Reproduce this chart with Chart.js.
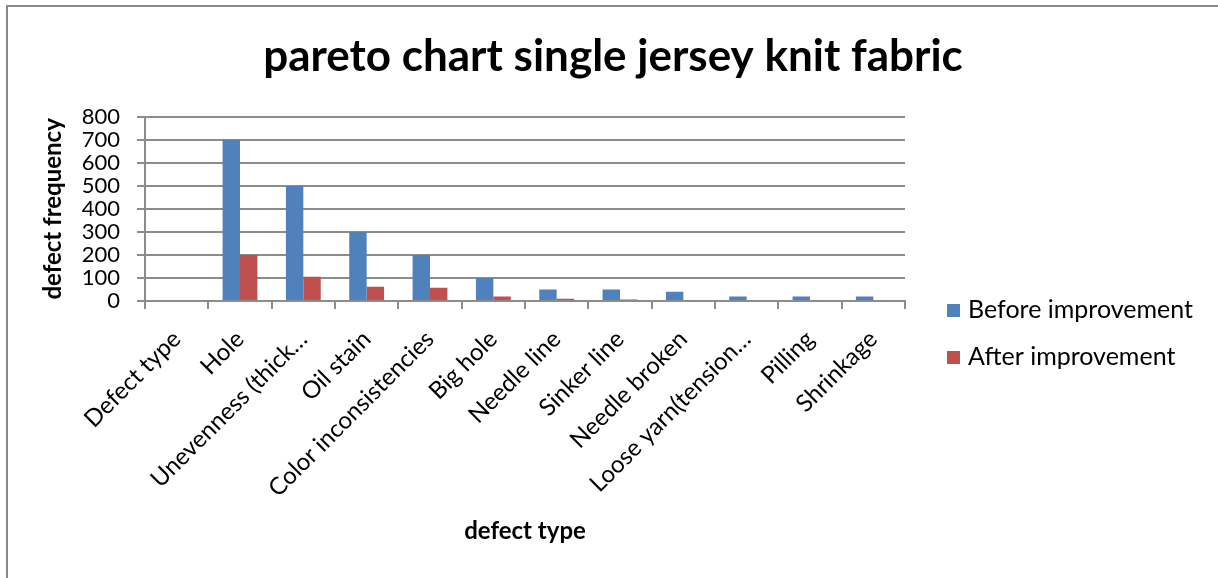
<!DOCTYPE html>
<html>
<head>
<meta charset="utf-8">
<script src="https://cdn.jsdelivr.net/npm/chart.js@4.4.1/dist/chart.umd.min.js"></script>
<style>
  html, body { margin: 0; padding: 0; background: #fff; }
  #wrap { position: relative; width: 1218px; height: 578px; }
  #frame { position: absolute; left: 6px; top: 5px; right: 0; bottom: 0;
           border-left: 2px solid #888; border-top: 2px solid #888; }
  canvas { position: absolute; left: 0; top: 0; }
</style>
</head>
<body>
<div id="wrap">
  <div id="frame"></div>
  <canvas id="mychart" width="1218" height="578"></canvas>
</div>
<script>
// data
const categories = ['Defect type', 'Hole', 'Unevenness (thick…', 'Oil stain', 'Color inconsistencies',
  'Big hole', 'Needle line', 'Sinker line', 'Needle broken', 'Loose yarn(tension…', 'Pilling', 'Shrinkage'];
const beforeValues = [0, 700, 500, 300, 200, 100, 50, 50, 40, 20, 20, 20];
const afterValues = [0, 200, 105, 62, 58, 20, 10, 6, 0, 0, 0, 0];
const seriesNames = ['Before improvement', 'After improvement'];
const yTicks = [0, 100, 200, 300, 400, 500, 600, 700, 800];

const FONT = 'Lato, "Open Sans", sans-serif';
const gridColor = '#8c8c8c';

// legend drawn by hand on the right side, like excel does
const sideLegend = {
  id: 'sideLegend',
  afterDraw(chart) {
    const ctx = chart.ctx;
    const x = chart.chartArea.right + 42;
    ctx.save();
    ctx.font = '25px ' + FONT;
    ctx.textBaseline = 'middle';
    chart.data.datasets.forEach((ds, i) => {
      const y = 310 + i * 47;
      ctx.fillStyle = ds.backgroundColor;
      ctx.fillRect(x, y - 6, 13, 13);
      ctx.fillStyle = '#000';
      ctx.fillText(ds.label, x + 21, y);
    });
    ctx.restore();
  }
};

const ctx = document.getElementById('mychart').getContext('2d');
const chart = new Chart(ctx, {
  type: 'bar',
  data: {
    labels: categories,
    datasets: [
      { label: seriesNames[0], data: beforeValues, backgroundColor: '#4F81BD' },
      { label: seriesNames[1], data: afterValues, backgroundColor: '#C0504D' }
    ]
  },
  options: {
    responsive: false,
    animation: false,
    layout: { padding: { left: 8, right: 0, top: 0, bottom: 0 } },
    categoryPercentage: 0.55,
    barPercentage: 1,
    plugins: {
      legend: { display: false },
      tooltip: { enabled: false },
      title: {
        display: true,
        text: 'pareto chart single jersey knit fabric',
        color: '#000',
        font: { family: FONT, size: 44, weight: 'bold', lineHeight: 1.2 },
        padding: { top: 30, bottom: 34 }
      }
    },
    scales: {
      x: {
        grid: { display: true, drawOnChartArea: false, drawTicks: true, tickLength: 8, color: gridColor, lineWidth: 2, offset: true },
        border: { display: true, color: gridColor, width: 2 },
        ticks: { color: '#000', font: { family: FONT, size: 24 }, minRotation: 45, maxRotation: 45, autoSkip: false, padding: 16 },
        title: { display: true, text: 'defect type', color: '#000', font: { family: FONT, size: 24, weight: 'bold' }, padding: { top: 0, bottom: 32 } },
        afterFit(scale) { scale.height = 277; }
      },
      y: {
        min: 0,
        max: 800,
        afterBuildTicks(scale) { scale.ticks = yTicks.map(v => ({ value: v })); },
        grid: { color: gridColor, lineWidth: 2, tickLength: 8 },
        border: { display: true, color: gridColor, width: 2 },
        ticks: { color: '#000', font: { family: FONT, size: 22, lineHeight: 1 }, autoSkip: false, padding: 17 },
        title: { display: true, text: 'defect frequency', color: '#000', font: { family: FONT, size: 24, weight: 'bold' }, padding: { top: 31, bottom: 0 } },
        afterFit(scale) { scale.width = 137; }
      },
      y2: {
        position: 'right',
        display: true,
        grid: { display: false },
        border: { display: false },
        ticks: { display: false },
        afterFit(scale) { scale.width = 313; }
      }
    }
  },
  plugins: [sideLegend]
});
</script>
</body>
</html>
